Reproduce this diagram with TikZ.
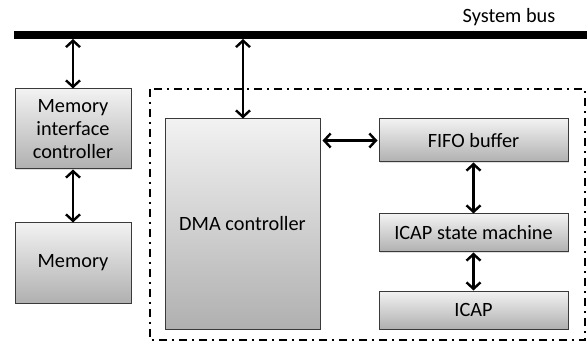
\documentclass[tikz,border=0pt]{standalone}
\usepackage{fontspec}
\setmainfont{Carlito}
\usetikzlibrary{arrows.meta,shadows}
\definecolor{boxtop}{HTML}{F2F2F2}
\definecolor{boxbot}{HTML}{B0B0B0}
\definecolor{boxline}{HTML}{3A3A3A}
\tikzset{
  block/.style={draw=boxline, line width=1pt, top color=boxtop, bottom color=boxbot,
    inner sep=0pt, align=center, font=\fontsize{20.3}{23}\selectfont,
    drop shadow={shadow xshift=1pt, shadow yshift=-1pt, opacity=0.25}},
  link/.style={line width=2.6pt, <->, >={Straight Barb[length=6.5pt,width=14pt,line width=2.4pt]}},
  frame/.style={line width=2.5pt, dash pattern=on 8pt off 5pt on 2pt off 5pt}
}
\begin{document}
\begin{tikzpicture}[x=1pt,y=-1pt]
\useasboundingbox (0,0) rectangle (587,350);
% system bus
\draw[line width=8pt] (14,35) -- (587,35);
\node[anchor=base, font=\fontsize{20.3}{23}\selectfont] (buslabel) at (509,23) {System bus};
\coordinate (busA) at (73,39);
\coordinate (busB) at (243,39);
% dash-dotted enclosure
\draw[frame] (150,89) rectangle (585,340);
% blocks
\node[block, minimum width=116pt, minimum height=80pt] (mic) at (73,129) {Memory\\interface\\controller};
\node[block, minimum width=116pt, minimum height=80pt] (mem) at (73,263) {Memory};
\node[block, minimum width=155pt, minimum height=210pt] (dma) at (242.5,224) {DMA controller};
\node[block, minimum width=189pt, minimum height=43pt] (fifo) at (473.5,140.5) {FIFO buffer};
\node[block, minimum width=189pt, minimum height=38pt] (ism) at (473.5,233) {ICAP state machine};
\node[block, minimum width=189pt, minimum height=38pt] (icap) at (473.5,310) {ICAP};
% connections
\draw[link] (busA) -- (mic.north);
\draw[link] (mic.south) -- (mem.north);
\draw[link] (busB) -- (busB |- dma.north);
\draw[link] ([xshift=2pt]dma.east |- fifo.west) -- ([xshift=-1pt]fifo.west);
\draw[link] (fifo.south) -- (ism.north);
\draw[link] (ism.south) -- (icap.north);
\end{tikzpicture}
\end{document}
